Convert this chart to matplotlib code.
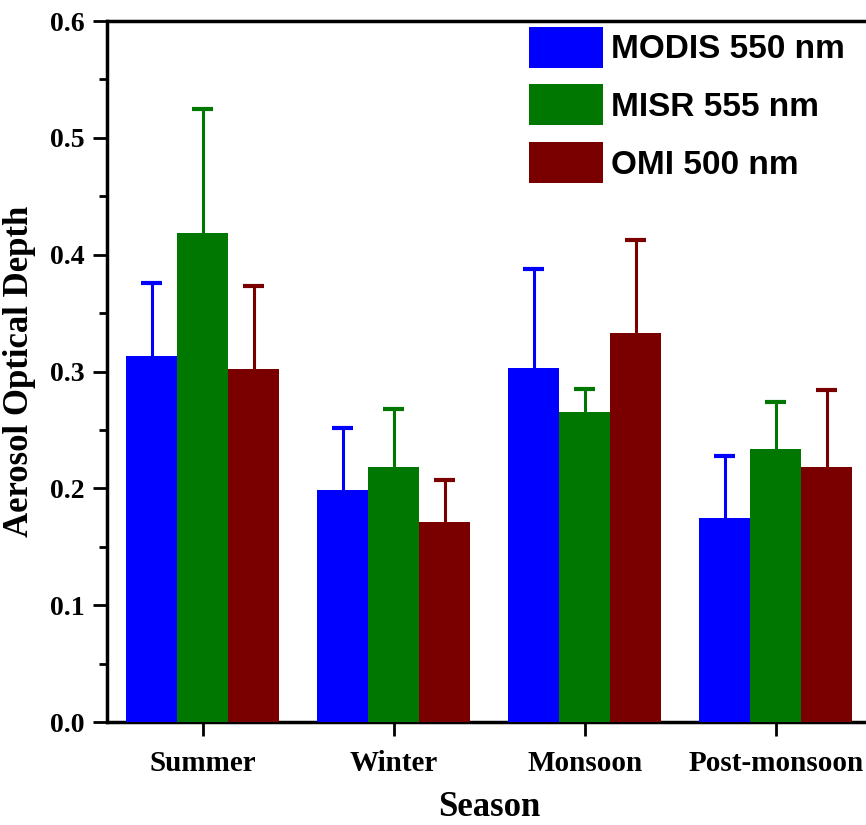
import numpy as np
import matplotlib
matplotlib.use("Agg")
import matplotlib.pyplot as plt

# ── データ ──────────────────────────────────────────────
seasons = ["Summer", "Winter", "Monsoon", "Post-monsoon"]
series_names = ["MODIS 550 nm", "MISR 555 nm", "OMI 500 nm"]
series_colors = ["#0000FF", "#007700", "#7A0000"]

modis_aod = [0.313, 0.199, 0.303, 0.175]
modis_err = [0.063, 0.053, 0.085, 0.053]
misr_aod = [0.419, 0.218, 0.265, 0.234]
misr_err = [0.106, 0.050, 0.020, 0.040]
omi_aod = [0.302, 0.171, 0.333, 0.218]
omi_err = [0.071, 0.036, 0.080, 0.066]

values = [modis_aod, misr_aod, omi_aod]
errors = [modis_err, misr_err, omi_err]

serif = ["Liberation Serif", "DejaVu Serif"]
sans = ["Liberation Sans", "DejaVu Sans"]

fig = plt.figure(figsize=(8.66, 8.25), dpi=100)
ax = fig.add_axes([0.1236, 0.1248, 0.8825, 0.8497])

x = np.arange(len(seasons))
width = 0.267
cap = 0.055
for i, (vals, errs, name, col) in enumerate(zip(values, errors, series_names, series_colors)):
    pos = x + (i - 1) * width
    vals = np.array(vals)
    tops = vals + np.array(errs)
    ax.bar(pos, vals, width, color=col, label=name, zorder=3)
    # 上側のみの誤差棒
    ax.vlines(pos, vals, tops, colors=col, linewidth=2.2, zorder=2)
    ax.hlines(tops, pos - cap, pos + cap, colors=col, linewidth=3, zorder=2)

ax.set_xlim(-0.5, 3.5)
ax.set_ylim(0, 0.6)
ax.set_xticks(x)
ax.set_xticklabels(seasons, fontfamily=serif, fontweight="bold", fontsize=21)
ax.set_yticks(np.arange(0, 0.61, 0.1))
ax.set_yticks(np.arange(0.05, 0.6, 0.1), minor=True)
ax.set_yticklabels([f"{v:.1f}" for v in np.arange(0, 0.61, 0.1)],
                   fontfamily=serif, fontweight="bold", fontsize=20)
ax.tick_params(axis="both", which="major", length=10, width=2, direction="out", pad=6)
ax.tick_params(axis="y", which="minor", length=6, width=2, direction="out")
ax.tick_params(axis="x", pad=10)
for s in ax.spines.values():
    s.set_linewidth(2.5)

ax.set_xlabel("Season", fontfamily=serif, fontweight="bold", fontsize=25, labelpad=10)
ax.set_ylabel("Aerosol Optical Depth", fontfamily=serif, fontweight="bold", fontsize=25, labelpad=10)

leg = ax.legend(loc="upper left", bbox_to_anchor=(0.596, 0.984), bbox_transform=fig.transFigure,
                frameon=False, handlelength=2.2, handleheight=1.52, labelspacing=0.5,
                handletextpad=0.25, borderaxespad=0,
                prop={"family": sans, "weight": "bold", "size": 24})

fig.savefig("out.png", dpi=100)
